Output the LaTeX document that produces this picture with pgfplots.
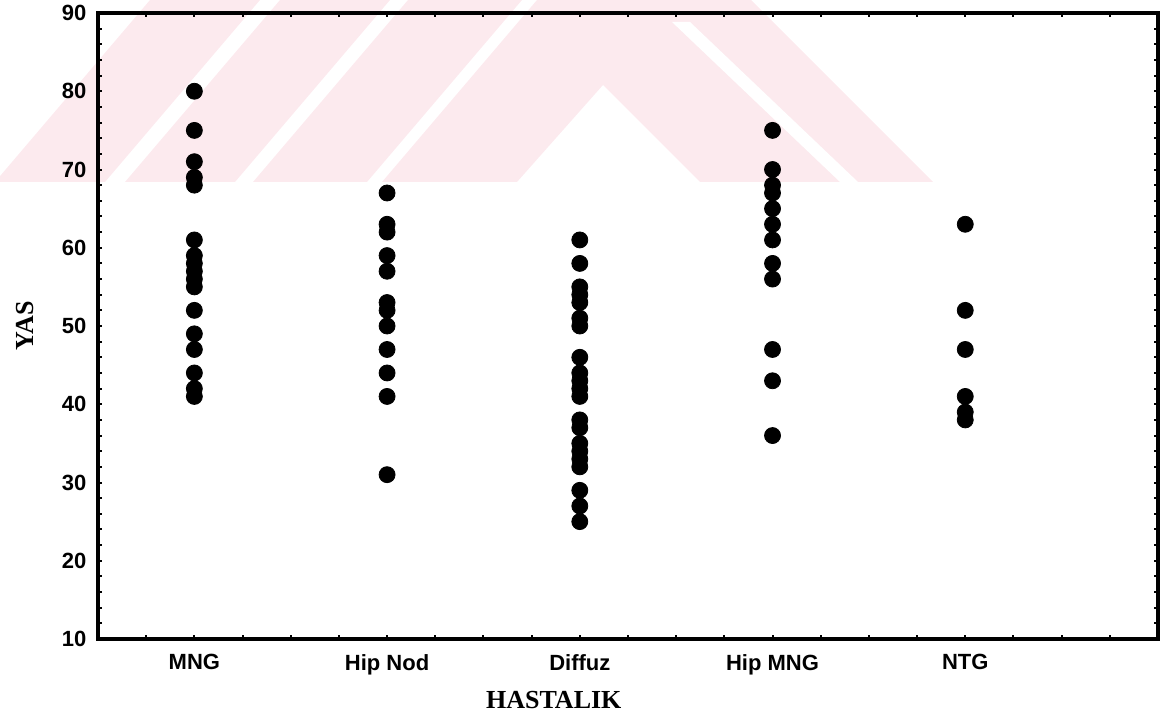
\documentclass[border=0pt]{standalone}
\usepackage{fontspec}
\setmainfont{Liberation Serif}
\setsansfont{Liberation Sans}
\usepackage{pgfplots}
\pgfplotsset{compat=1.18}
\definecolor{wm}{RGB}{252,234,238}
\begin{document}
\begin{tikzpicture}
\useasboundingbox (0,0) rectangle (587.5pt,364pt);
% watermark (background decoration), pixel coordinates
\begin{scope}[x=0.5pt,y=-0.5pt,yshift=364pt]
\clip (0,0) rectangle (1175,182);
\fill[wm] (-5,182) -- (105,182) -- (260,0) -- (150,0) -- cycle;
\fill[wm] (125,182) -- (235,182) -- (390,0) -- (280,0) -- cycle;
\fill[wm] (253,182) -- (367,182) -- (522,0) -- (408,0) -- cycle;
\fill[wm] (382,182) -- (517,182) -- (603,85) -- (700,182) -- (933,182) -- (751,0) -- (537,0) -- cycle;
\fill[white] (840,182) -- (858,182) -- (690,22) -- (672,22) -- cycle;
\end{scope}
\begin{axis}[at={(49pt,44.5pt)}, anchor=south west, scale only axis,
  width=530pt, height=313pt,
  xmin=0.5, xmax=6, ymin=10, ymax=90,
  xtick={1,2,3,4,5}, xticklabels={MNG,Hip Nod,Diffuz,Hip MNG,NTG},
  minor xtick={0.5,0.75,...,6},
  ytick={10,20,...,90}, minor ytick={10,12,...,90},
  tick align=inside, major tick length=2pt, minor tick length=2pt,
  tick style={line width=1pt, black},
  axis line style={line width=1.6pt},
  ticklabel style={font=\sffamily\bfseries\fontsize{11}{13}\selectfont},
  /pgf/number format/assume math mode=true,
  xticklabel style={yshift=-4pt},
  yticklabel style={xshift=-2.3pt},
  xlabel={HASTALIK}, ylabel={YAS},
  label style={font=\rmfamily\bfseries\fontsize{13}{15}\selectfont},
  xlabel style={at={(rel axis cs:0.43,0)}, anchor=center, yshift=-30.5pt},
  ylabel style={at={(rel axis cs:0,0.5)}, anchor=center, yshift=36.5pt},
  clip=false,
]
\addplot[only marks, mark=*, mark size=4pt, black] coordinates {
(1,80) (1,75) (1,71) (1,69) (1,68) (1,61) (1,59) (1,58) (1,57) (1,56) (1,55) (1,52) (1,49) (1,47) (1,44) (1,42) (1,41)
};
\addplot[only marks, mark=*, mark size=4pt, black] coordinates {
(2,67) (2,63) (2,62) (2,59) (2,57) (2,53) (2,52) (2,50) (2,47) (2,44) (2,41) (2,31)
};
\addplot[only marks, mark=*, mark size=4pt, black] coordinates {
(3,61) (3,58) (3,55) (3,54) (3,53) (3,51) (3,50) (3,46) (3,44) (3,43) (3,42) (3,41) (3,38) (3,37) (3,35) (3,34) (3,33) (3,32) (3,29) (3,27) (3,25)
};
\addplot[only marks, mark=*, mark size=4pt, black] coordinates {
(4,75) (4,70) (4,68) (4,67) (4,65) (4,63) (4,61) (4,58) (4,56) (4,47) (4,43) (4,36)
};
\addplot[only marks, mark=*, mark size=4pt, black] coordinates {
(5,63) (5,52) (5,47) (5,41) (5,39) (5,38)
};
\end{axis}
\end{tikzpicture}
\end{document}
